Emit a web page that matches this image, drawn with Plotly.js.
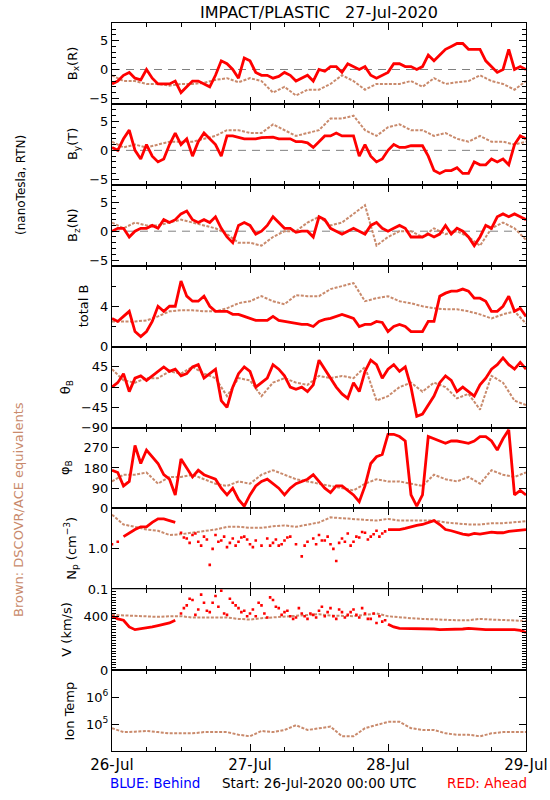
<!DOCTYPE html>
<html>
<head>
<meta charset="utf-8">
<script src="https://cdn.plot.ly/plotly-3.0.1.min.js"></script>
<style>html,body{margin:0;padding:0;background:#fff;}#chart{width:550px;height:800px;}</style>
</head>
<body>
<div id="chart"></div>
<script>
// ---------- DATA (hours since 26-Jul-2020 00:00 UTC) ----------
const hoursRed = [0,1,2,3,4,5,6,7,8,9,10,11,12,13,14,15,16,17,18,19,20,21,22,23,24,25,26,27,28,29,30,31,32,33,34,35,36,37,38,39,40,41,42,43,44,45,46,47,48,49,50,51,52,53,54,55,56,57,58,59,60,61,62,63,64,65,66,67,68,69,70,71,72];
const hoursHalf = [12.5,13.5,14.5,15.5,16.5,17.5,18.5,19.5,20.5,21.5,22.5,23.5,24.5,25.5,26.5,27.5,28.5,29.5,30.5,31.5,32.5,33.5,34.5,35.5,36.5,37.5,38.5,39.5,40.5,41.5,42.5,43.5,44.5,45.5,46.5,47.5];
const hoursBrown = [0,2,4,6,8,10,12,14,16,18,20,22,24,26,28,30,32,34,36,38,40,42,44,46,48,50,52,54,56,58,60,62,64,66,68,70,72];
const dayTickHours = [0,24,48,72];
const dayTickLabels = ['26-Jul','27-Jul','28-Jul','29-Jul'];

// Bx (R), nT
const bxRed = [-2.5,-2,-1,-0.5,-1.5,-1.8,0,-1.5,-2.5,-2.5,-2.5,-2,
  -4,-3,-2,-2,-2.5,-3,-1,1.5,1,0,-1.5,2,
  1.5,-0.5,-1,-1,-1.5,-1.2,-0.5,-1,-2,-1.5,-1,-2,
  0,-0.3,0.5,0.5,-0.5,1,0.5,0,0.5,-1,-1.5,-1,
  -0.5,1,1,0.5,0.5,0,0.5,2.5,1.5,2.5,3.5,4,
  4.5,4.5,3.5,3.5,3.5,1.5,0.5,-0.5,0,3.5,0,0.5,0];
const bxBrown = [-1,-2,-2,-2.5,-2.5,-2.8,-2.5,-2.5,-2.3,-1.8,-1.5,-2.2,
  -1.5,-2,-4,-3,-4.5,-3.5,-3.5,-2.5,-1,-2,-3.5,-2.5,
  -2.5,-2.5,-2,-3,-1.5,-2.5,-2.2,-2,-1,-2,-2.5,-3.5,-2];

// By (T), nT
const byRed = [0.5,0,2,3.5,0,-1.5,1,-1,-2,-1.5,1,3,
  1,2,-1,1.5,3,2,1,-1,2.5,2.5,2.2,2,
  2,2,2.2,2.2,2.3,2,2,2,1.5,1.5,1.3,0.5,
  1.5,2.5,2.5,3,2.5,2.5,2.5,-1,1,-1,-2,-1.5,
  0,1,0.5,0.5,0.8,0.8,0.8,-1,-3.5,-4,-3.5,-3.5,
  -3,-4,-4,-2,-2.5,-2.5,-1.5,-2,-1.5,-2.5,1,2.5,2];
const byBrown = [1.5,0.5,1,0.5,1,1.5,1.5,1.5,2,2.5,3.5,3.5,
  3,3,4.5,3.5,2.5,3,3.5,5.5,5.5,6,3.5,2.5,
  4,4.5,3.5,3.5,2.5,3,2,1.5,2.5,1.5,1.5,1,1.5];

// Bz (N), nT
const bzRed = [0,0.5,0.5,-1,0,0.5,0.5,1,0.5,2,1.5,2,
  3,3.5,2,1.5,2,1.5,2.5,0.5,-1,-2,1,1.5,
  1,-0.5,0,1,2.5,1.5,0.5,0.5,-0.2,0,0,-1,
  2.5,2,0.5,0,-0.5,0,0.5,0,-0.5,1,1.5,0.5,
  0,0.5,1,0.5,-1,-1,-1,-0.5,-1,-0.5,1,-0.5,
  0.5,0,-1,-2.5,-1,1,0.5,2.5,3,2.5,3,2.5,2];
const bzBrown = [1.5,0.5,1.5,1,1,1.5,2,1.5,1,0.5,-0.5,-2,
  -2,-2.5,-1,0,0,1.5,2.5,1,1.5,3,4.5,-2.5,
  -1,0,0,-1,0.5,-0.5,0,-1,-2.5,0.5,1.5,0.5,-1.5];

// total B, nT
const btRed = [2.8,2.5,3,3.5,1.5,1,1.5,2.5,4,3.5,4,4,
  6.5,5,4.5,4.5,5,4,3.5,3.5,3.5,3.2,3.2,3,
  2.8,2.6,2.6,2.6,3,2.6,2.5,2.4,2.3,2.2,2.2,2,
  2.5,2.7,2.8,3,3.2,3,2.8,2,2.2,2.2,2.5,2.4,
  1.5,2,2.2,2,1.5,1.5,1.5,2.5,2.5,5,5.3,5.5,
  5.5,5.7,5.5,4.8,4.8,4.5,3.5,3.5,4,5,3.5,3.8,3];
const btBrown = [2.5,2.5,2.5,2.6,3,3.5,3.6,3.6,3.5,3.5,3.8,4.3,
  4.5,5,4.5,4.2,5.1,5,5,5.7,6,6.3,4.5,4.8,
  5,4.5,4.3,4,3.8,3.7,3.7,3.5,3.2,2.8,3.2,3.5,2.3];

// theta_B, deg
const thRed = [0,10,30,-10,20,25,15,25,35,45,35,40,
  25,30,45,50,20,30,40,-30,-45,0,30,45,
  35,0,10,20,50,40,25,0,-5,0,-10,5,
  60,40,20,0,-15,-25,10,-10,35,60,50,20,
  40,50,35,45,0,-65,-60,-40,-20,10,25,15,
  -10,0,-10,-20,5,20,40,50,65,50,40,55,40];
const thBrown = [40,15,10,20,20,35,30,45,30,20,-20,20,
  15,-20,10,20,10,5,25,20,25,20,45,-30,
  -20,0,10,-10,10,0,-25,-15,-50,25,10,-30,-40];

// phi_B, deg
const phRed = [170,160,100,120,280,200,260,230,200,150,130,60,
  220,180,140,170,150,140,130,90,60,90,40,10,
  60,100,120,130,110,90,60,90,110,120,130,150,
  120,90,70,100,100,80,60,30,100,200,230,240,
  330,330,320,300,60,10,60,320,310,300,290,300,
  300,295,290,300,320,320,300,260,310,350,60,80,60];
const phBrown = [120,150,150,160,110,140,140,150,130,110,100,120,
  110,150,170,150,130,120,110,100,90,80,110,130,
  120,120,110,100,150,130,120,140,110,170,150,140,160];

// N_p, cm^-3 (red: dense stretches / scattered points)
const npRedDense = [null,null,2,2.5,3,3.5,3.5,4.5,5.5,5.5,5,4.5,
  null,null,null,null,null,null,null,null,null,null,null,null,
  null,null,null,null,null,null,null,null,null,null,null,null,
  null,null,null,null,null,null,null,null,null,null,null,null,
  3,3,3,3.2,3.5,3.8,4,4.5,5,4,3,2.8,
  2.5,2.3,2.2,2.4,2.3,2.5,2.6,2.5,2.5,2.7,2.8,2.9,3];
const npRedScatter = [1.3,1.5,null,null,null,null,null,null,null,null,null,null,
  2.5,1.8,2.2,1.5,2.0,0.4,2.2,1.6,1.1,1.8,1.5,2.0,
  1.3,1.6,1.2,1.8,1.4,1.2,1.6,2.0,1.3,0.65,1.5,1.8,
  2.2,1.6,1.3,0.5,1.8,2.4,1.5,1.9,2.5,2.0,2.8,2.4,
  null,null,null,null,null,null,null,null,null,null,null,null,
  null,null,null,null,null,null,null,null,null,null,null,null,null];
const npRedScatterHalf = [1.9,1.4,2.4,1.2,1.7,1.0,1.5,2.0,1.4,1.2,1.9,1.7,
  1.1,null,null,1.2,1.7,1.3,1.9,null,null,1.2,null,1.3,
  1.6,2.0,1.0,1.4,1.5,1.2,2.0,2.6,1.7,2.3,2.0,2.7];
const npBrown = [7,4,3.5,3,2.8,2.2,2.3,2.5,2.8,3,3.5,3.5,
  3.3,3.3,3.6,3.8,3.5,4,4.5,6,5.8,5.5,5.2,5,
  5.5,5,5,5,5,4.5,4.3,4,4,4.3,4.3,4.5,4.8];

// V, km/s
const vRedDense = [400,380,370,320,300,305,310,320,330,340,350,370,
  null,null,null,null,null,null,null,null,null,null,null,null,
  null,null,null,null,null,null,null,null,null,null,null,null,
  null,null,null,null,null,null,null,null,null,null,null,null,
  340,320,310,310,310,305,305,305,305,300,300,300,
  300,305,310,305,300,300,300,300,305,300,300,295,280];
const vRedScatter = [null,null,null,null,null,null,null,null,null,null,null,null,
  420,480,520,450,500,430,550,590,410,500,460,440,
  420,400,480,390,520,460,430,400,390,420,380,410,
  440,400,460,380,430,410,450,390,420,380,350,360,
  null,null,null,null,null,null,null,null,null,null,null,null,
  null,null,null,null,null,null,null,null,null,null,null,null,null];
const vRedScatterHalf = [460,530,410,560,440,500,470,420,530,480,430,400,
  450,500,420,540,470,410,440,380,460,400,420,390,
  470,430,400,450,390,430,410,460,380,420,400,370];
const vBrown = [410,405,400,400,395,400,400,390,390,385,390,380,
  375,385,390,395,400,410,415,405,400,400,410,420,
  400,390,385,380,375,370,370,370,380,375,370,365,365];

// Ion temperature, K
const tBrown = [7e4,5e4,5.2e4,5.5e4,5e4,4.5e4,4.5e4,4.5e4,5e4,5e4,5e4,4e4,
  3.5e4,5.5e4,5e4,6e4,9e4,6e4,7e4,8e4,3.5e4,3.5e4,7e4,9e4,
  1.2e5,1.2e5,7e4,6e4,6e4,4.5e4,4e4,4e4,3.5e4,4.5e4,5e4,5e4,5e4];

// ---------- STYLE ----------
const RED = '#ff0000';
const BROWN = '#c98a6c';
const FONT = 'DejaVu Sans, Liberation Sans, sans-serif';
const W = 550, H = 800, L = 112, R = 526, TOP = 23.3, PH = 80.85;
const py = p => 1 - p / H;

const traces = [];
const ax = (p, i) => p + (i === 1 ? '' : i);
function brown(i, x, y) {
  traces.push({x, y, xaxis: ax('x', i), yaxis: ax('y', i),
    mode: 'lines', line: {color: BROWN, width: 2, dash: '3px,1.5px'}, connectgaps: false});
}
function redLine(i, x, y) {
  traces.push({x, y, xaxis: ax('x', i), yaxis: ax('y', i),
    mode: 'lines', line: {color: RED, width: 2.8}, connectgaps: false});
}
function redDots(i, x, y) {
  traces.push({x, y, xaxis: ax('x', i), yaxis: ax('y', i),
    mode: 'markers', marker: {color: RED, size: 2.6, symbol: 'square'}});
}

brown(1, hoursBrown, bxBrown); redLine(1, hoursRed, bxRed);
brown(2, hoursBrown, byBrown); redLine(2, hoursRed, byRed);
brown(3, hoursBrown, bzBrown); redLine(3, hoursRed, bzRed);
brown(4, hoursBrown, btBrown); redLine(4, hoursRed, btRed);
brown(5, hoursBrown, thBrown); redLine(5, hoursRed, thRed);
brown(6, hoursBrown, phBrown); redLine(6, hoursRed, phRed);
brown(7, hoursBrown, npBrown); redLine(7, hoursRed, npRedDense);
redDots(7, hoursRed, npRedScatter); redDots(7, hoursHalf, npRedScatterHalf);
brown(8, hoursBrown, vBrown); redLine(8, hoursRed, vRedDense);
redDots(8, hoursRed, vRedScatter); redDots(8, hoursHalf, vRedScatterHalf);
brown(9, hoursBrown, tBrown);

const yCfg = [
  {range: [-6, 8], tickvals: [-5, 0, 5], ticktext: ['−5', '0', '5'], minor: 1},
  {range: [-6, 8], tickvals: [-5, 0, 5], ticktext: ['−5', '0', '5'], minor: 1},
  {range: [-6, 8], tickvals: [-5, 0, 5], ticktext: ['−5', '0', '5'], minor: 1},
  {range: [0, 8], tickvals: [0, 4], ticktext: ['0', '4'], minor: 2},
  {range: [-90, 90], tickvals: [-90, -45, 0, 45], ticktext: ['−90', '−45', '0', '45'], minor: null},
  {range: [0, 360], tickvals: [0, 90, 180, 270], ticktext: ['0', '90', '180', '270'], minor: null},
  {type: 'log', range: [-1, 1], tickvals: [0.1, 1], ticktext: ['0.1', '1.0'], minor: null},
  {range: [0, 600], tickvals: [0, 400], ticktext: ['0', '400'], minor: 20},
  {type: 'log', range: [4, 7], tickvals: [1e5, 1e6], ticktext: ['10<sup>5</sup>', '10<sup>6</sup>'], minor: null}
];
const yTitles = ['B<sub>x</sub>(R)', 'B<sub>y</sub>(T)', 'B<sub>z</sub>(N)', 'total B',
  'θ<sub>B</sub>', 'φ<sub>B</sub>', 'N<sub>p</sub> (cm<sup>−3</sup>)', 'V (km/s)', 'Ion Temp'];
const yTitleX = [73.5, 73.5, 73.5, 83, 66, 66, 71, 67, 70];

const layout = {
  width: W, height: H, margin: {l: 0, r: 0, t: 0, b: 0},
  paper_bgcolor: '#fff', plot_bgcolor: '#fff', showlegend: false, hovermode: false,
  font: {family: FONT, color: '#000', size: 13},
  shapes: [], annotations: []
};

for (let i = 1; i <= 9; i++) {
  const s = i === 1 ? '' : String(i);
  const top = TOP + (i - 1) * PH, bot = top + PH;
  layout['xaxis' + s] = {
    anchor: 'y' + s, domain: [L / W, R / W], range: [0, 72],
    tickmode: 'array', tickvals: dayTickHours, ticktext: dayTickLabels,
    showticklabels: i === 9, tickfont: {size: 15, family: FONT},
    ticks: 'inside', ticklen: 7, tickcolor: '#000', tickwidth: 1,
    minor: {dtick: 6, ticks: 'inside', ticklen: 4, tickcolor: '#000', showgrid: false},
    showline: true, linecolor: '#000', linewidth: 1, mirror: 'allticks',
    showgrid: false, zeroline: false, fixedrange: true
  };
  const c = yCfg[i - 1];
  const ya = {
    anchor: 'x' + s, domain: [py(bot), py(top)], range: c.range,
    tickmode: 'array', tickvals: c.tickvals, ticktext: c.ticktext,
    ticks: 'inside', ticklen: 7, tickcolor: '#000', tickwidth: 1,
    tickfont: {size: 13, family: FONT},
    showline: true, linecolor: '#000', linewidth: 1, mirror: 'allticks',
    showgrid: false, zeroline: false, fixedrange: true
  };
  if (c.type) ya.type = c.type;
  if (c.minor) ya.minor = {dtick: c.minor, ticks: 'inside', ticklen: 4, tickcolor: '#000', showgrid: false};
  layout['yaxis' + s] = ya;

  layout.annotations.push({
    text: yTitles[i - 1], xref: 'paper', yref: 'paper', x: yTitleX[i - 1] / W, y: py((top + bot) / 2),
    xanchor: 'center', yanchor: 'middle', textangle: -90, showarrow: false,
    font: {size: 13, family: FONT, color: '#000'}
  });
  if (i <= 3) {
    layout.shapes.push({type: 'line', xref: 'x' + s, yref: 'y' + s, x0: 0, x1: 72, y0: 0, y1: 0,
      layer: 'below', line: {color: '#808080', width: 1, dash: '8px,6px'}});
  }
}

layout.annotations.push(
  {text: 'IMPACT/PLASTIC\u00a0\u00a0\u00a027-Jul-2020', xref: 'paper', yref: 'paper', x: 319 / W, y: py(12),
    xanchor: 'center', yanchor: 'middle', showarrow: false, font: {size: 16, family: FONT, color: '#000'}},
  {text: '(nanoTesla, RTN)', xref: 'paper', yref: 'paper', x: 21 / W, y: py(185),
    xanchor: 'center', yanchor: 'middle', textangle: -90, showarrow: false, font: {size: 12, family: FONT, color: '#000'}},
  {text: 'Brown: DSCOVR/ACE equivalents', xref: 'paper', yref: 'paper', x: 19 / W, y: py(510),
    xanchor: 'center', yanchor: 'middle', textangle: -90, showarrow: false, font: {size: 13, family: FONT, color: BROWN}},
  {text: 'BLUE: Behind', xref: 'paper', yref: 'paper', x: 154.5 / W, y: py(783),
    xanchor: 'center', yanchor: 'middle', showarrow: false, font: {size: 13.5, family: FONT, color: '#0000ff'}},
  {text: 'Start: 26-Jul-2020 00:00 UTC', xref: 'paper', yref: 'paper', x: 318.5 / W, y: py(783),
    xanchor: 'center', yanchor: 'middle', showarrow: false, font: {size: 13.5, family: FONT, color: '#000'}},
  {text: 'RED: Ahead', xref: 'paper', yref: 'paper', x: 487 / W, y: py(783),
    xanchor: 'center', yanchor: 'middle', showarrow: false, font: {size: 13.5, family: FONT, color: '#ff0000'}}
);

Plotly.newPlot('chart', traces, layout, {staticPlot: true, displayModeBar: false});
</script>
</body>
</html>
